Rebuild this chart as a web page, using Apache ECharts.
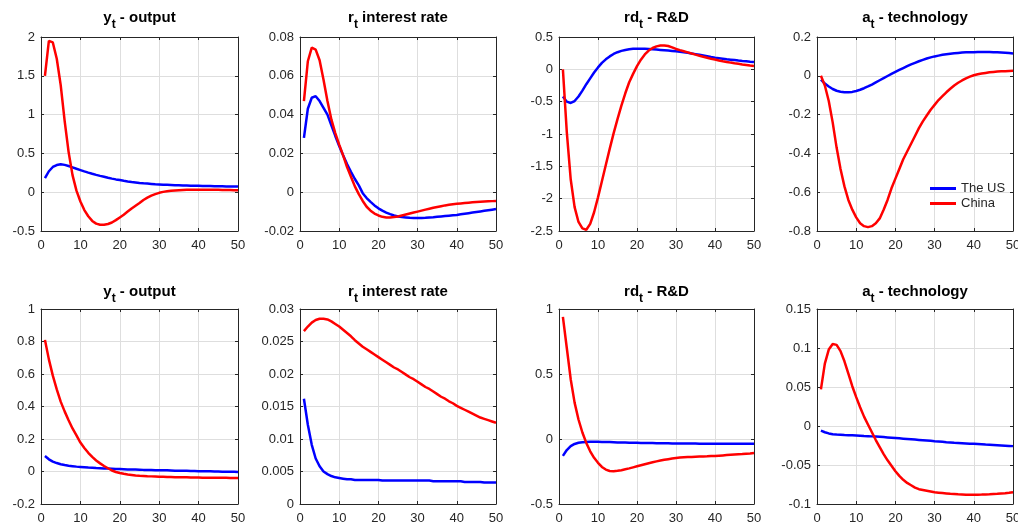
<!DOCTYPE html>
<html>
<head>
<meta charset="utf-8">
<script src="https://cdn.jsdelivr.net/npm/echarts@6/dist/echarts.min.js"></script>
<style>
  html, body { margin: 0; padding: 0; background: #ffffff; }
  #chart { width: 1018px; height: 528px; }
</style>
</head>
<body>
<div id="chart"></div>
<script>
// Impulse responses over 50 periods, two countries.
const periods = Array.from({ length: 50 }, (_, i) => i + 1);
const xTicks = [0, 10, 20, 30, 40, 50];
const countryNames = ['The US', 'China'];

// ---- First shock (top row) ----
const outputUS_1 = [0.18, 0.27, 0.325, 0.35, 0.36, 0.352, 0.338, 0.32, 0.302, 0.285,
  0.268, 0.252, 0.237, 0.223, 0.21, 0.198, 0.186, 0.175, 0.165, 0.156,
  0.147, 0.139, 0.132, 0.126, 0.12, 0.115, 0.111, 0.107, 0.103, 0.1,
  0.097, 0.095, 0.093, 0.091, 0.089, 0.087, 0.086, 0.084, 0.083, 0.082,
  0.081, 0.08, 0.079, 0.078, 0.077, 0.076, 0.075, 0.074, 0.073, 0.072];
const outputCN_1 = [1.5, 1.95, 1.93, 1.72, 1.38, 0.92, 0.52, 0.22, 0.02, -0.12,
  -0.23, -0.31, -0.37, -0.405, -0.42, -0.42, -0.41, -0.39, -0.36, -0.325,
  -0.29, -0.25, -0.21, -0.175, -0.14, -0.1, -0.07, -0.045, -0.025, -0.008,
  0.004, 0.012, 0.018, 0.023, 0.026, 0.029, 0.031, 0.032, 0.033, 0.033,
  0.033, 0.032, 0.032, 0.031, 0.03, 0.029, 0.028, 0.027, 0.026, 0.025];
const rateUS_1 = [0.028, 0.043, 0.0487, 0.0495, 0.047, 0.0435, 0.04, 0.0345, 0.029, 0.0238,
  0.019, 0.0145, 0.0105, 0.0068, 0.0035, -0.0005, -0.003, -0.005, -0.0068, -0.0083,
  -0.0095, -0.0105, -0.0113, -0.012, -0.0125, -0.0128, -0.013, -0.0132, -0.0133, -0.0133,
  -0.0133, -0.0132, -0.013, -0.0129, -0.0127, -0.0125, -0.0123, -0.0121, -0.0119, -0.0117,
  -0.0114, -0.0111, -0.0108, -0.0105, -0.0102, -0.0099, -0.0096, -0.0093, -0.009, -0.0087];
const rateCN_1 = [0.047, 0.0675, 0.0745, 0.0735, 0.068, 0.058, 0.047, 0.0375, 0.0305, 0.0245,
  0.019, 0.013, 0.008, 0.003, -0.001, -0.0045, -0.0075, -0.0095, -0.011, -0.012,
  -0.0127, -0.013, -0.013, -0.0128, -0.0125, -0.012, -0.0115, -0.011, -0.0105, -0.01,
  -0.0095, -0.009, -0.0085, -0.008, -0.0076, -0.0072, -0.0068, -0.0065, -0.0062, -0.006,
  -0.0058, -0.0056, -0.0054, -0.0052, -0.005, -0.0049, -0.0048, -0.0047, -0.0046, -0.0045];
const rdUS_1 = [-0.42, -0.5, -0.52, -0.49, -0.42, -0.33, -0.23, -0.14, -0.05, 0.03,
  0.1, 0.155, 0.2, 0.238, 0.265, 0.285, 0.3, 0.31, 0.317, 0.32,
  0.32, 0.318, 0.314, 0.31, 0.305, 0.3, 0.295, 0.29, 0.285, 0.279,
  0.272, 0.264, 0.255, 0.245, 0.235, 0.224, 0.213, 0.202, 0.191, 0.181,
  0.173, 0.165, 0.157, 0.15, 0.143, 0.136, 0.13, 0.125, 0.119, 0.114];
const rdCN_1 = [0, -0.97, -1.7, -2.13, -2.36, -2.46, -2.48, -2.39, -2.21, -1.98,
  -1.73, -1.48, -1.23, -0.99, -0.77, -0.56, -0.37, -0.2, -0.07, 0.05,
  0.15, 0.23, 0.29, 0.33, 0.355, 0.368, 0.37, 0.36, 0.34, 0.315,
  0.297, 0.28, 0.262, 0.244, 0.227, 0.211, 0.195, 0.18, 0.165, 0.151,
  0.138, 0.126, 0.115, 0.104, 0.094, 0.085, 0.076, 0.068, 0.06, 0.053];
const techUS_1 = [-0.02, -0.04, -0.055, -0.068, -0.077, -0.082, -0.085, -0.085, -0.083, -0.078,
  -0.072, -0.064, -0.055, -0.045, -0.034, -0.023, -0.012, -0.001, 0.01, 0.02,
  0.03, 0.04, 0.05, 0.059, 0.067, 0.075, 0.082, 0.089, 0.095, 0.1,
  0.104, 0.108, 0.111, 0.114, 0.116, 0.118, 0.12, 0.121, 0.122, 0.122,
  0.123, 0.123, 0.123, 0.123, 0.122, 0.121, 0.12, 0.119, 0.117, 0.115];
const techCN_1 = [0, -0.05, -0.13, -0.24, -0.37, -0.48, -0.57, -0.64, -0.69, -0.73,
  -0.76, -0.775, -0.78, -0.775, -0.76, -0.735, -0.69, -0.64, -0.58, -0.53,
  -0.48, -0.43, -0.39, -0.35, -0.31, -0.27, -0.235, -0.205, -0.175, -0.15,
  -0.125, -0.105, -0.085, -0.067, -0.05, -0.036, -0.024, -0.013, -0.004, 0.003,
  0.008, 0.012, 0.015, 0.018, 0.02, 0.022, 0.023, 0.024, 0.025, 0.026];

// ---- Second shock (bottom row) ----
const outputUS_2 = [0.095, 0.075, 0.061, 0.052, 0.045, 0.04, 0.036, 0.033, 0.03, 0.028,
  0.026, 0.024, 0.023, 0.021, 0.02, 0.019, 0.018, 0.017, 0.016, 0.015,
  0.014, 0.013, 0.012, 0.012, 0.011, 0.01, 0.01, 0.009, 0.008, 0.008,
  0.007, 0.007, 0.006, 0.005, 0.005, 0.004, 0.004, 0.003, 0.003, 0.002,
  0.002, 0.001, 0.001, 0, 0, -0.001, -0.001, -0.002, -0.002, -0.003];
const outputCN_2 = [0.81, 0.69, 0.59, 0.505, 0.43, 0.37, 0.315, 0.265, 0.222, 0.178,
  0.145, 0.115, 0.09, 0.068, 0.05, 0.034, 0.02, 0.006, -0.003, -0.009,
  -0.014, -0.018, -0.021, -0.024, -0.026, -0.027, -0.029, -0.03, -0.031, -0.032,
  -0.033, -0.034, -0.034, -0.035, -0.035, -0.036, -0.036, -0.037, -0.037, -0.037,
  -0.038, -0.038, -0.038, -0.039, -0.039, -0.039, -0.039, -0.04, -0.04, -0.04];
const rateUS_2 = [0.0162, 0.0122, 0.0091, 0.007, 0.0058, 0.005, 0.0046, 0.0043, 0.0041, 0.004,
  0.0039, 0.0038, 0.0038, 0.0037, 0.0037, 0.0037, 0.0037, 0.0037, 0.0037, 0.0037,
  0.0036, 0.0036, 0.0036, 0.0036, 0.0036, 0.0036, 0.0036, 0.0036, 0.0036, 0.0036,
  0.0036, 0.0036, 0.0036, 0.0035, 0.0035, 0.0035, 0.0035, 0.0035, 0.0035, 0.0035,
  0.0035, 0.0034, 0.0034, 0.0034, 0.0034, 0.0034, 0.0033, 0.0033, 0.0033, 0.0033];
const rateCN_2 = [0.0266, 0.0273, 0.0279, 0.0283, 0.0285, 0.0285, 0.0284, 0.0281, 0.0277, 0.0273,
  0.0268, 0.0263, 0.0258, 0.0252, 0.0247, 0.0242, 0.0238, 0.0234, 0.023, 0.0226,
  0.0222, 0.0218, 0.0214, 0.021, 0.0207, 0.0203, 0.0199, 0.0195, 0.0192, 0.0188,
  0.0184, 0.018, 0.0177, 0.0173, 0.0169, 0.0165, 0.0162, 0.0158, 0.0155, 0.0151,
  0.0148, 0.0145, 0.0142, 0.0139, 0.0136, 0.0133, 0.0131, 0.0129, 0.0127, 0.0125];
const rdUS_2 = [-0.13, -0.085, -0.055, -0.038, -0.029, -0.025, -0.023, -0.022, -0.022, -0.022,
  -0.023, -0.023, -0.024, -0.025, -0.026, -0.026, -0.027, -0.028, -0.029, -0.029,
  -0.03, -0.03, -0.031, -0.031, -0.032, -0.032, -0.033, -0.033, -0.034, -0.034,
  -0.034, -0.035, -0.035, -0.035, -0.035, -0.036, -0.036, -0.036, -0.036, -0.036,
  -0.036, -0.036, -0.037, -0.037, -0.037, -0.037, -0.037, -0.037, -0.037, -0.037];
const rdCN_2 = [0.94, 0.7, 0.46, 0.28, 0.15, 0.05, -0.03, -0.095, -0.145, -0.183,
  -0.215, -0.235, -0.246, -0.248, -0.245, -0.24, -0.233, -0.226, -0.218, -0.21,
  -0.202, -0.194, -0.186, -0.179, -0.172, -0.166, -0.16, -0.155, -0.15, -0.146,
  -0.143, -0.141, -0.139, -0.138, -0.136, -0.135, -0.134, -0.133, -0.131, -0.13,
  -0.128, -0.126, -0.124, -0.122, -0.12, -0.118, -0.116, -0.113, -0.111, -0.108];
const techUS_2 = [-0.006, -0.008, -0.0095, -0.0105, -0.011, -0.0113, -0.0116, -0.0118, -0.012, -0.0122,
  -0.0125, -0.0128, -0.013, -0.0133, -0.0136, -0.0139, -0.0142, -0.0146, -0.015, -0.0154,
  -0.0158, -0.0162, -0.0166, -0.017, -0.0174, -0.0178, -0.0182, -0.0186, -0.019, -0.0195,
  -0.0199, -0.0203, -0.0207, -0.021, -0.0214, -0.0217, -0.022, -0.0223, -0.0226, -0.0229,
  -0.0232, -0.0235, -0.0238, -0.024, -0.0243, -0.0246, -0.0249, -0.0252, -0.0255, -0.0258];
const techCN_2 = [0.047, 0.08, 0.098, 0.105, 0.104, 0.096, 0.083, 0.067, 0.051, 0.037,
  0.024, 0.012, 0.002, -0.008, -0.018, -0.027, -0.036, -0.044, -0.051, -0.058,
  -0.064, -0.069, -0.073, -0.076, -0.079, -0.081, -0.082, -0.083, -0.084, -0.085,
  -0.0855, -0.086, -0.0865, -0.087, -0.0873, -0.0876, -0.0878, -0.088, -0.088, -0.088,
  -0.088, -0.0879, -0.0877, -0.0875, -0.0872, -0.0869, -0.0865, -0.0861, -0.0856, -0.085];

// y-axis tick labels for each panel
const yTicksOutput_1 = [-0.5, 0, 0.5, 1, 1.5, 2];
const yTicksRate_1 = [-0.02, 0, 0.02, 0.04, 0.06, 0.08];
const yTicksRd_1 = [-2.5, -2, -1.5, -1, -0.5, 0, 0.5];
const yTicksTech_1 = [-0.8, -0.6, -0.4, -0.2, 0, 0.2];
const yTicksOutput_2 = [-0.2, 0, 0.2, 0.4, 0.6, 0.8, 1];
const yTicksRate_2 = [0, 0.005, 0.01, 0.015, 0.02, 0.025, 0.03];
const yTicksRd_2 = [-0.5, 0, 0.5, 1];
const yTicksTech_2 = [-0.1, -0.05, 0, 0.05, 0.1, 0.15];

// Panel titles: [variable, subscript, rest]
const titleOutput = ['y', 't', ' - output'];
const titleRate = ['r', 't', ' interest rate'];
const titleRd = ['rd', 't', ' - R&D'];
const titleTech = ['a', 't', ' - technology'];

const panels = [
  { title: titleOutput, us: outputUS_1, cn: outputCN_1, ticks: yTicksOutput_1 },
  { title: titleRate, us: rateUS_1, cn: rateCN_1, ticks: yTicksRate_1 },
  { title: titleRd, us: rdUS_1, cn: rdCN_1, ticks: yTicksRd_1 },
  { title: titleTech, us: techUS_1, cn: techCN_1, ticks: yTicksTech_1 },
  { title: titleOutput, us: outputUS_2, cn: outputCN_2, ticks: yTicksOutput_2 },
  { title: titleRate, us: rateUS_2, cn: rateCN_2, ticks: yTicksRate_2 },
  { title: titleRd, us: rdUS_2, cn: rdCN_2, ticks: yTicksRd_2 },
  { title: titleTech, us: techUS_2, cn: techCN_2, ticks: yTicksTech_2 }
];

// Layout of the 2 x 4 subplot grid (pixels)
const colLeft = [41, 300, 559, 817];
const colWidth = [197, 196, 195, 196];
const rowTop = [37, 309];
const rowHeight = [194, 195];
const titleY = [18, 292];      // baseline-centre of the main title text
const subDrop = 7;             // subscript offset below the main text

const FONT = '"Liberation Sans", Arial, Helvetica, sans-serif';
const TITLE_FONT = 'bold 15px ' + FONT;
const SUB_FONT = 'bold 12px ' + FONT;
const AXIS_COLOR = '#262626';
const GRID_COLOR = '#dedede';
const US_COLOR = '#0000ff';
const CN_COLOR = '#ff0000';

const measureCtx = document.createElement('canvas').getContext('2d');
function textWidth(str, font) { measureCtx.font = font; return measureCtx.measureText(str).width; }

const grids = [], xAxes = [], yAxes = [], series = [], graphics = [];

panels.forEach((p, i) => {
  const row = Math.floor(i / 4), col = i % 4;
  const box = { left: colLeft[col], top: rowTop[row], width: colWidth[col], height: rowHeight[row] };
  grids.push(Object.assign({ containLabel: false, show: false, outerBoundsMode: 'none' }, box));

  const yMin = p.ticks[0], yMax = p.ticks[p.ticks.length - 1];
  const yStep = +(p.ticks[1] - p.ticks[0]).toFixed(6);
  const xMin = xTicks[0], xMax = xTicks[xTicks.length - 1];
  const xStep = xTicks[1] - xTicks[0];

  const lineStyle = { color: AXIS_COLOR, width: 1 };
  const tick = { show: true, inside: true, length: 3, lineStyle: { color: AXIS_COLOR } };
  const label = { color: AXIS_COLOR, fontSize: 13, fontFamily: FONT, showMinLabel: true, showMaxLabel: true, hideOverlap: false };

  // main (labelled) axes
  xAxes.push({
    type: 'value', gridIndex: i, position: 'bottom', min: xMin, max: xMax, interval: xStep,
    axisLine: { show: true, onZero: false, lineStyle },
    axisTick: tick,
    axisLabel: Object.assign({ margin: 8 }, label),
    splitLine: { show: true, lineStyle: { color: GRID_COLOR, width: 1 } }
  });
  yAxes.push({
    type: 'value', gridIndex: i, position: 'left', min: yMin, max: yMax, interval: yStep,
    axisLine: { show: true, onZero: false, lineStyle },
    axisTick: tick,
    axisLabel: Object.assign({ margin: 6 }, label),
    splitLine: { show: true, lineStyle: { color: GRID_COLOR, width: 1 } }
  });
  // mirrored axes closing the box
  xAxes.push({
    type: 'value', gridIndex: i, position: 'top', min: xMin, max: xMax, interval: xStep,
    axisLine: { show: true, onZero: false, lineStyle },
    axisTick: tick, axisLabel: { show: false }, splitLine: { show: false }
  });
  yAxes.push({
    type: 'value', gridIndex: i, position: 'right', min: yMin, max: yMax, interval: yStep,
    axisLine: { show: true, onZero: false, lineStyle },
    axisTick: tick, axisLabel: { show: false }, splitLine: { show: false }
  });

  [[countryNames[0], p.us, US_COLOR], [countryNames[1], p.cn, CN_COLOR]].forEach(([name, vals, color]) => {
    series.push({
      type: 'line', name, xAxisIndex: 2 * i, yAxisIndex: 2 * i,
      data: periods.map((t, k) => [t, vals[k]]),
      showSymbol: false, symbol: 'none', smooth: false, silent: true,
      lineStyle: { color, width: 2.5 }, itemStyle: { color },
      clip: true
    });
  });

  // subplot title: variable, subscript t, description
  const [head, sub, tail] = p.title;
  const wHead = textWidth(head, TITLE_FONT);
  const wSub = textWidth(sub, SUB_FONT);
  const wTail = textWidth(tail, TITLE_FONT);
  let x0 = box.left + box.width / 2 - (wHead + wSub + wTail) / 2;
  const ty = titleY[row];
  const pieces = [[head, TITLE_FONT, ty], [sub, SUB_FONT, ty + subDrop], [tail, TITLE_FONT, ty]];
  pieces.forEach(([txt, font, y]) => {
    graphics.push({
      type: 'text', x: x0, y, silent: true,
      style: {
        text: txt, font, fill: '#000000',
        align: 'left', textAlign: 'left', verticalAlign: 'middle', textVerticalAlign: 'middle'
      }
    });
    x0 += textWidth(txt, font);
  });
});

const chart = echarts.init(document.getElementById('chart'), null, { renderer: 'canvas' });
chart.setOption({
  backgroundColor: '#ffffff',
  animation: false,
  grid: grids,
  xAxis: xAxes,
  yAxis: yAxes,
  series,
  graphic: graphics,
  legend: {
    data: countryNames,
    orient: 'vertical',
    left: 930, top: 182,
    padding: 0, itemGap: 2,
    icon: 'rect', itemWidth: 26, itemHeight: 3,
    textStyle: { color: AXIS_COLOR, fontSize: 13, fontFamily: FONT, lineHeight: 13 },
    selectedMode: false
  }
});
</script>
</body>
</html>
